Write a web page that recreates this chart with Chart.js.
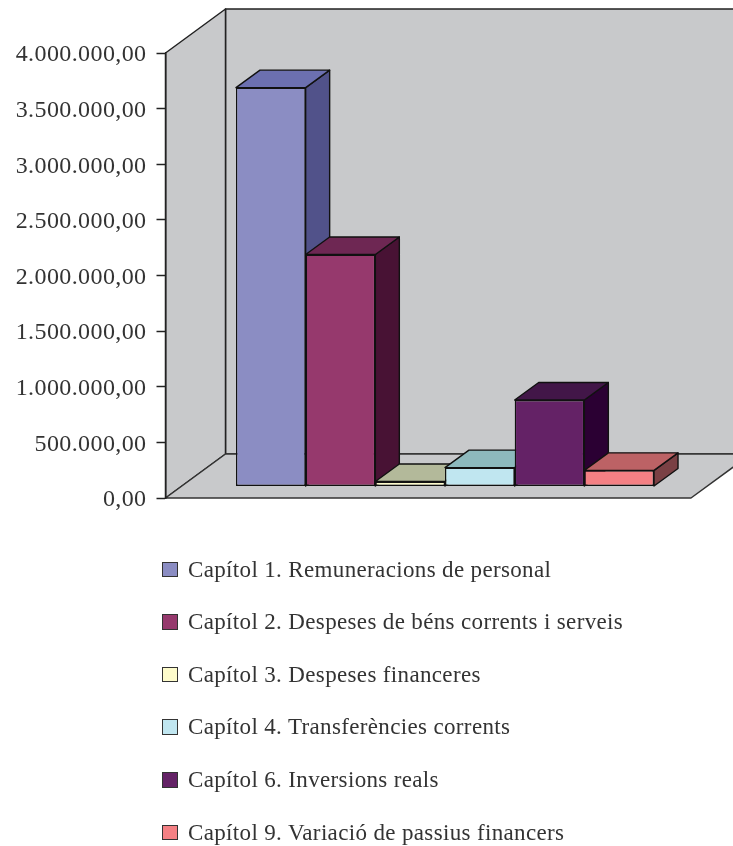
<!DOCTYPE html>
<html>
<head>
<meta charset="utf-8">
<title>Capítols</title>
<script src="https://cdn.jsdelivr.net/npm/chart.js@4"></script>
<style>
    html, body { margin: 0; padding: 0; background: #fff; }
    #wrap { position: relative; width: 733px; height: 846px; overflow: hidden; }
    #barChart { position: absolute; left: 0; top: 0; }
    #legend { position: absolute; left: 162px; top: 0; }
    .item { position: absolute; left: 0; white-space: nowrap; height: 28px; line-height: 28px;
        font-family: "Liberation Serif", serif; font-size: 23px; letter-spacing: 0.35px; color: #333; }
    .box { position: absolute; left: 0; top: 6px; width: 13.5px; height: 13.5px; border: 1.5px solid #333; }
    .item span { position: absolute; left: 26px; top: 0; }
</style>
</head>
<body>
<div id="wrap">
    <canvas id="barChart" width="733" height="846"></canvas>
    <div id="legend"></div>
</div>
<script>
const chapters = [
    "Capítol 1. Remuneracions de personal",
    "Capítol 2. Despeses de béns corrents i serveis",
    "Capítol 3. Despeses financeres",
    "Capítol 4. Transferències corrents",
    "Capítol 6. Inversions reals",
    "Capítol 9. Variació de passius financers"
];
const amounts = [3585000, 2085000, 45000, 170000, 777000, 145000];
const tickLabels = [
    "0,00", "500.000,00", "1.000.000,00", "1.500.000,00", "2.000.000,00",
    "2.500.000,00", "3.000.000,00", "3.500.000,00", "4.000.000,00"
];
const frontColors = ["#8b8dc3", "#96396d", "#fdfbcb", "#c0e6f0", "#642266", "#f48084"];
const topColors = ["#6c70b0", "#6e2753", "#b3b99a", "#8db9bd", "#421648", "#bc6265"];
const sideColors = ["#51528a", "#481234", "#8f8f70", "#6f9aa0", "#2b0033", "#7a4044"];
const legendRows = [569.5, 622, 674.5, 727, 780, 832.5];

const WALL = "#c8c9cb";
const LINE = "#222";
// depth of the box and of each bar, and where the bars stand on the floor
const boxDX = 60, boxDY = 44;
const barDX = 24, barDY = 17.5;
const shiftX = 16.75, shiftY = 11.5;

function poly(ctx, pts, fill, stroke, width) {
    ctx.beginPath();
    pts.forEach((p, i) => i ? ctx.lineTo(p[0], p[1]) : ctx.moveTo(p[0], p[1]));
    ctx.closePath();
    ctx.fillStyle = fill;
    ctx.fill();
    ctx.strokeStyle = stroke;
    ctx.lineWidth = width;
    ctx.lineJoin = "round";
    ctx.stroke();
}

const box3d = {
    id: "box3d",
    afterLayout(chart) {
        // tick text sits a little lower than Chart.js centres it
        const y = chart.scales.y;
        if (y.labelsNudged) return;
        const drawLabels = y.drawLabels;
        y.drawLabels = function (area) {
            this.ctx.save();
            this.ctx.translate(0, 2);
            drawLabels.call(this, area);
            this.ctx.restore();
        };
        y.labelsNudged = true;
    },
    beforeDraw(chart) {
        const ctx = chart.ctx;
        const { left, right, top, bottom } = chart.chartArea;
        ctx.letterSpacing = "0.4px";
        ctx.save();
        // back wall, side wall, floor
        poly(ctx, [[left + boxDX, top - boxDY], [right + boxDX, top - boxDY], [right + boxDX, bottom - boxDY], [left + boxDX, bottom - boxDY]], WALL, LINE, 1.5);
        poly(ctx, [[left, top], [left + boxDX, top - boxDY], [left + boxDX, bottom - boxDY], [left, bottom]], WALL, LINE, 1.5);
        poly(ctx, [[left, bottom], [left + boxDX, bottom - boxDY], [right + boxDX, bottom - boxDY], [right, bottom]], WALL, "#333", 1.5);
        ctx.restore();
    },
    beforeDatasetDraw() {
        return false; // bars get painted below, left to right
    },
    afterDatasetsDraw(chart) {
        const ctx = chart.ctx;
        chart.data.datasets.forEach((ds, i) => {
            const bar = chart.getDatasetMeta(i).data[0];
            const l = bar.x - bar.width / 2, r = bar.x + bar.width / 2;
            ctx.save();
            ctx.translate(shiftX, -shiftY);
            poly(ctx, [[r, bar.y], [r + barDX, bar.y - barDY], [r + barDX, bar.base - barDY], [r, bar.base]], sideColors[i], "#111", 1.4);
            poly(ctx, [[l, bar.y], [l + barDX, bar.y - barDY], [r + barDX, bar.y - barDY], [r, bar.y]], topColors[i], "#111", 1.4);
            bar.draw(ctx);
            ctx.restore();
        });
    }
};

function buildLegend() {
    const legend = document.getElementById("legend");
    chapters.forEach((name, i) => {
        const item = document.createElement("div");
        item.className = "item";
        item.style.top = (legendRows[i] - 14) + "px";
        const box = document.createElement("div");
        box.className = "box";
        box.style.background = frontColors[i];
        const label = document.createElement("span");
        label.textContent = name;
        item.appendChild(box);
        item.appendChild(label);
        legend.appendChild(item);
    });
}

new Chart(document.getElementById("barChart").getContext("2d"), {
    type: "bar",
    data: {
        labels: [""],
        datasets: chapters.map((name, i) => ({
            label: name,
            data: [amounts[i]],
            backgroundColor: frontColors[i],
            borderColor: "#111",
            borderWidth: 1.4,
            borderSkipped: false,
            barPercentage: 1,
            categoryPercentage: 0.7955
        }))
    },
    options: {
        responsive: false,
        animation: false,
        layout: { padding: { top: 53, bottom: 348, left: 0, right: 42 } },
        plugins: { legend: { display: false }, tooltip: { enabled: false } },
        scales: {
            x: { display: false },
            y: {
                min: 0,
                max: 4000000,
                afterFit(scale) { scale.width = 165.5; },
                border: { color: "#222", width: 1.5 },
                grid: { drawOnChartArea: false, tickLength: 9, tickColor: "#222", tickWidth: 1.5 },
                ticks: {
                    stepSize: 500000,
                    padding: 10,
                    color: "#333",
                    font: { family: "'Liberation Serif', serif", size: 24 },
                    callback(value, index) { return tickLabels[index]; }
                }
            }
        }
    },
    plugins: [box3d]
});
buildLegend();
</script>
</body>
</html>
